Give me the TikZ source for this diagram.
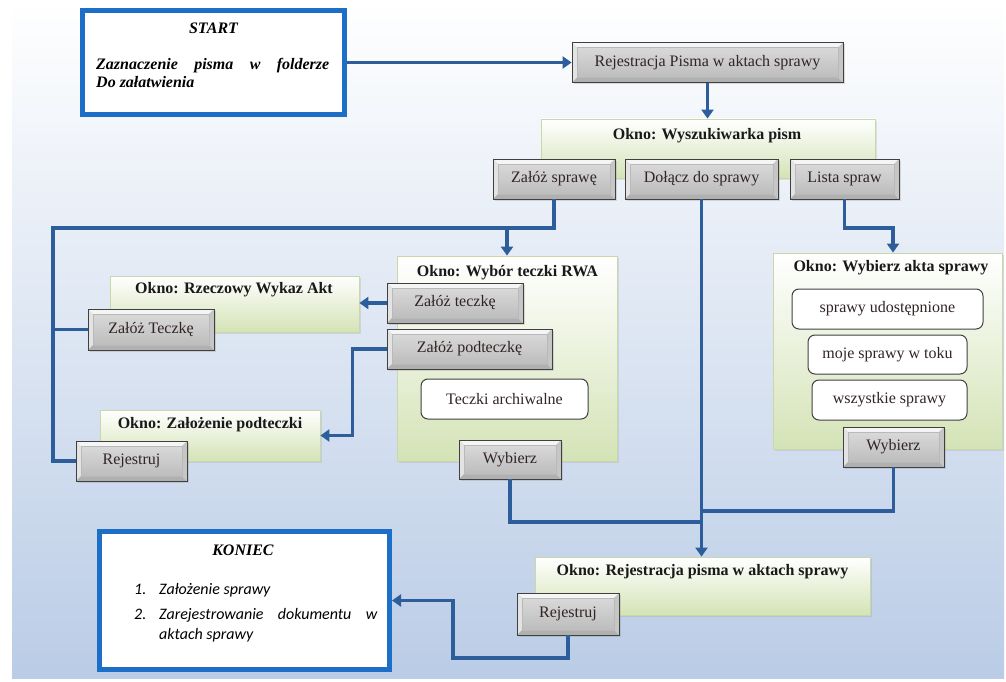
\documentclass[tikz,border=0pt]{standalone}
\usepackage{fontspec}
\setmainfont{Liberation Serif}
\newfontfamily\calfont{Carlito}
\usetikzlibrary{arrows.meta,shadows}

\definecolor{bgblue}{RGB}{186,204,230}
\definecolor{flow}{RGB}{46,93,156}
\definecolor{frameblue}{RGB}{28,110,198}
\definecolor{winedge}{RGB}{200,216,168}
\definecolor{wingreen}{RGB}{212,227,182}
\definecolor{btntext}{RGB}{50,36,36}

\tikzset{
  conn/.style={draw=flow, line width=3.2pt},
  flowarrow/.style={conn, -{Triangle[width=12pt,length=9pt]}},
  framebox/.style={draw=frameblue, line width=5pt, fill=white, inner sep=0pt},
  window/.style={draw=winedge, line width=0.8pt, top color=white, bottom color=wingreen,
    inner sep=0pt, drop shadow={opacity=0.18, shadow xshift=2pt, shadow yshift=-2pt}},
  wintitle/.style={font=\bfseries\fontsize{16}{19}\selectfont, text=black!90, inner sep=0pt},
  % bevelled push button
  btn/.style={draw=gray!50!black, line width=0.8pt, fill=gray!30,
    inner sep=0pt, text=btntext, font=\fontsize{16}{19}\selectfont,
    drop shadow={opacity=0.25, shadow xshift=2pt, shadow yshift=-2pt},
    path picture={
      \path (path picture bounding box.north west) coordinate (bnw)
            (path picture bounding box.north east) coordinate (bne)
            (path picture bounding box.south west) coordinate (bsw)
            (path picture bounding box.south east) coordinate (bse);
      \fill[gray!8]  (bnw) -- (bne) -- ([shift={(-5pt,-5pt)}]bne) -- ([shift={(5pt,-5pt)}]bnw) -- cycle;
      \fill[gray!22] (bnw) -- (bsw) -- ([shift={(5pt,5pt)}]bsw) -- ([shift={(5pt,-5pt)}]bnw) -- cycle;
      \fill[gray!62] (bsw) -- (bse) -- ([shift={(-5pt,5pt)}]bse) -- ([shift={(5pt,5pt)}]bsw) -- cycle;
      \fill[gray!45] (bne) -- (bse) -- ([shift={(-5pt,5pt)}]bse) -- ([shift={(-5pt,-5pt)}]bne) -- cycle;
      \shade[top color=gray!30, middle color=white!96!gray, bottom color=gray!52]
        ([shift={(5pt,-5pt)}]bnw) rectangle ([shift={(-5pt,5pt)}]bse);
      \draw[gray!55, line width=0.5pt]
        ([shift={(5pt,-5pt)}]bnw) rectangle ([shift={(-5pt,5pt)}]bse);
    }},
  option/.style={draw=black!75, line width=1pt, rounded corners=7pt, fill=white,
    inner sep=0pt, text=btntext, font=\fontsize{16}{19}\selectfont},
  bfit/.style={font=\bfseries\itshape\fontsize{16}{19}\selectfont, inner sep=0pt},
  calit/.style={font=\calfont\itshape\fontsize{16}{19}\selectfont, inner sep=0pt}
}

\begin{document}
\begin{tikzpicture}[x=1pt,y=-1pt]
\useasboundingbox (0,0) rectangle (1006,682);

% page background
\fill[white] (0,0) rectangle (1006,682);
\shade[top color=white, bottom color=bgblue] (12,0) rectangle (1004,678);

% ---------- start and end frames ----------
\node[framebox, minimum width=262pt, minimum height=104pt] (start) at (213.5,62.5) {};
\node[bfit] (start-t) at (213.5,28) {START};
\node[bfit, anchor=base west] (start-l1) at (96,70) {\makebox[233pt][s]{Zaznaczenie pisma w folderze}};
\node[bfit, anchor=base west] (start-l2) at (96,88) {Do załatwienia};

\node[framebox, minimum width=290pt, minimum height=138pt] (koniec) at (244.5,600.5) {};
\node[bfit] (koniec-t) at (243,550) {KONIEC};
\node[calit, anchor=base west] (k-n1) at (134,594) {1.};
\node[calit, anchor=base west] (k-i1) at (159,594) {Założenie sprawy};
\node[calit, anchor=base west] (k-n2) at (134,619) {2.};
\node[calit, anchor=base west] (k-i2) at (159,619) {\makebox[218pt][s]{Zarejestrowanie dokumentu w}};
\node[calit, anchor=base west] (k-i3) at (159,639) {aktach sprawy};

% ---------- windows ----------
\node[window, minimum width=334pt, minimum height=59pt] (wysz) at (708,148.5) {};
\node[wintitle] (wysz-t) at (707,136) {Okno: Wyszukiwarka pism};

\node[window, minimum width=220pt, minimum height=205pt] (rwa) at (507,358.5) {};
\node[wintitle] (rwa-t) at (507.5,273) {Okno: Wybór teczki RWA};

\node[window, minimum width=229pt, minimum height=196pt] (wak) at (887.5,351) {};
\node[wintitle] (wak-t) at (891,268) {Okno: Wybierz akta sprawy};

\node[window, minimum width=249pt, minimum height=56pt] (rwak) at (234.5,304) {};
\node[wintitle] (rwak-t) at (234,290) {Okno: Rzeczowy Wykaz Akt};

\node[window, minimum width=220pt, minimum height=51pt] (zpod) at (210,435.5) {};
\node[wintitle] (zpod-t) at (210,425) {Okno: Założenie podteczki};

\node[window, minimum width=335pt, minimum height=58pt] (rpa) at (702.5,586) {};
\node[wintitle] (rpa-t) at (702.5,572) {Okno: Rejestracja pisma w aktach sprawy};

% ---------- buttons ----------
\node[btn, minimum width=271pt, minimum height=40pt] (rej) at (707.5,62.5) {Rejestracja Pisma w aktach sprawy};
\node[btn, minimum width=122pt, minimum height=40pt] (zs) at (554,179) {Załóż sprawę};
\node[btn, minimum width=153pt, minimum height=40pt] (dds) at (701.5,179) {Dołącz do sprawy};
\node[btn, minimum width=109pt, minimum height=40pt] (ls) at (844.5,179) {Lista spraw};

\node[btn, minimum width=136pt, minimum height=40pt] (zt) at (455,303) {Załóż teczkę};
\node[btn, minimum width=165pt, minimum height=40pt] (zp) at (469.5,349) {Załóż podteczkę};
\node[option, minimum width=167pt, minimum height=40pt] (ta) at (504.5,399) {Teczki archiwalne};
\node[btn, minimum width=102pt, minimum height=39pt] (wb1) at (510,459.5) {Wybierz};

\node[btn, minimum width=126pt, minimum height=41pt] (zT) at (151,329.5) {Załóż Teczkę};
\node[btn, minimum width=111pt, minimum height=40pt] (rj1) at (131.5,461) {Rejestruj};

\node[option, minimum width=191pt, minimum height=40pt] (su) at (887.5,309) {sprawy udostępnione};
\node[option, minimum width=159pt, minimum height=39pt] (ms) at (887.5,354.5) {moje sprawy w toku};
\node[option, minimum width=155pt, minimum height=40pt] (ws) at (889.5,400) {wszystkie sprawy};
\node[btn, minimum width=101pt, minimum height=40pt] (wb2) at (893.5,447) {Wybierz};

\node[btn, minimum width=102pt, minimum height=42pt] (rj2) at (568,614) {Rejestruj};

% ---------- junction points ----------
\coordinate (lbus) at (53,228);
\coordinate (lsb) at (893,228);
\coordinate (j1) at (702,522);
\coordinate (j2) at (702,511);
\coordinate (r1) at (453,658);

% ---------- connectors ----------
\draw[flowarrow] (start.east) -- (rej.west);
\draw[flowarrow] (rej.south) -- (rej.south |- wysz.north);

\draw[conn] (zs.south) |- (lbus) |- (rj1.west);
\draw[conn] (lbus |- zT.west) -- (zT.west);
\draw[flowarrow] (rwa.north |- lbus) -- (rwa.north);

\draw[flowarrow] (dds.south) -- (dds.south |- rpa.north);
\draw[flowarrow] (ls.south) |- (lsb) -- (lsb |- wak.north);

\draw[conn] (wb1.south) |- (j1);
\draw[conn] (wb2.south) |- (j2);

\draw[flowarrow] (zt.west) -- (zt.west -| rwak.east);
\draw[flowarrow] (zp.west) -- ++(-34pt,0pt) |- (zpod.east);

\draw[flowarrow] (rj2.south) |- (r1) |- (koniec.east);
\end{tikzpicture}
\end{document}
